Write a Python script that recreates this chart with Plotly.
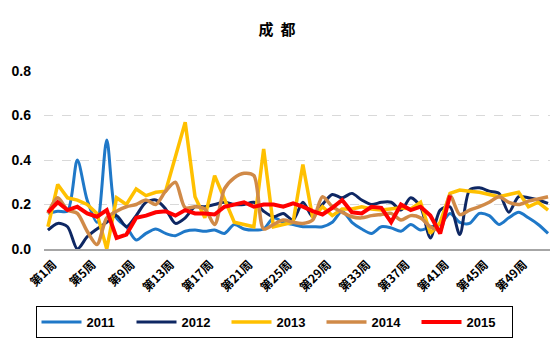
import plotly.graph_objects as go

weeks = list(range(1, 53))
tick_weeks = list(range(1, 53, 4))
tick_labels = [f"第{w}周" for w in tick_weeks]

y2011 = [0.16, 0.17, 0.17, 0.40, 0.22, 0.12, 0.49, 0.14, 0.10, 0.04,
         0.07, 0.09, 0.07, 0.06, 0.08, 0.085, 0.08, 0.085, 0.07, 0.11,
         0.09, 0.085, 0.09, 0.14, 0.12, 0.11, 0.10, 0.10, 0.10, 0.12,
         0.17, 0.12, 0.09, 0.07, 0.10, 0.095, 0.08, 0.11, 0.085, 0.10,
         0.11, 0.16, 0.12, 0.115, 0.16, 0.15, 0.11, 0.14, 0.165, 0.14,
         0.11, 0.07]
y2012 = [0.085, 0.115, 0.10, 0.0, 0.055, 0.09, 0.12, 0.15, 0.10, 0.15,
         0.21, 0.22, 0.18, 0.115, 0.14, 0.19, 0.19, 0.20, 0.21, 0.20,
         0.20, 0.21, 0.17, 0.145, 0.16, 0.13, 0.21, 0.145, 0.20, 0.245,
         0.23, 0.25, 0.22, 0.20, 0.21, 0.21, 0.175, 0.23, 0.19, 0.05,
         0.175, 0.19, 0.065, 0.265, 0.275, 0.26, 0.25, 0.165, 0.235, 0.23,
         0.22, 0.205]
y2013 = [0.10, 0.29, 0.23, 0.22, 0.20, 0.16, 0.0, 0.23, 0.20, 0.27,
         0.24, 0.255, 0.26, 0.41, 0.57, 0.235, 0.14, 0.33, 0.22, 0.12,
         0.11, 0.10, 0.45, 0.10, 0.11, 0.12, 0.38, 0.14, 0.19, 0.15,
         0.18, 0.18, 0.19, 0.18, 0.175, 0.18, 0.185, 0.18, 0.21, 0.07,
         0.12, 0.25, 0.265, 0.26, 0.255, 0.245, 0.235, 0.245, 0.255, 0.19,
         0.21, 0.175]
y2014 = [0.16, 0.23, 0.175, 0.16, 0.08, 0.02, 0.14, 0.17, 0.19, 0.20,
         0.22, 0.20, 0.26, 0.30, 0.185, 0.19, 0.18, 0.11, 0.27, 0.32,
         0.34, 0.33, 0.09, 0.11, 0.13, 0.12, 0.115, 0.13, 0.235, 0.19,
         0.165, 0.145, 0.14, 0.15, 0.155, 0.16, 0.13, 0.15, 0.14, 0.10,
         0.085, 0.24, 0.155, 0.175, 0.19, 0.21, 0.235, 0.21, 0.20, 0.215,
         0.225, 0.235]
y2015 = [0.165, 0.21, 0.175, 0.19, 0.16, 0.145, 0.175, 0.05, 0.065, 0.14,
         0.15, 0.165, 0.17, 0.15, 0.175, 0.16, 0.16, 0.155, 0.19, 0.20,
         0.21, 0.19, 0.20, 0.20, 0.19, 0.205, 0.19, 0.17, 0.155, 0.185,
         0.22, 0.165, 0.16, 0.19, 0.185, 0.12, 0.20, 0.175, 0.19, 0.15,
         0.07, 0.24]

series = [
    ("2011", y2011, "#1F78C8", 3, "spline"),
    ("2012", y2012, "#0E2763", 3, "spline"),
    ("2013", y2013, "#FFC000", 3.5, "linear"),
    ("2014", y2014, "#D08A48", 3.5, "spline"),
    ("2015", y2015, "#FF0000", 4, "linear"),
]

fig = go.Figure()
for name, ys, color, w, shape in series:
    fig.add_trace(go.Scatter(
        x=weeks[:len(ys)], y=ys, name=name, mode="lines",
        line=dict(color=color, width=w, shape=shape, smoothing=0.8),
    ))

base_font = "Liberation Sans, Arial, Noto Sans CJK SC, sans-serif"

fig.update_layout(
    width=554, height=353,
    margin=dict(l=44, r=4, t=71, b=104),
    paper_bgcolor="white", plot_bgcolor="white",
    font=dict(family=base_font, color="black"),
    title=dict(text="<b>成&nbsp;&nbsp;都</b>", x=277 / 554, xref="container", xanchor="center",
               y=1 - 30 / 353, yref="container", yanchor="middle",
               font=dict(size=15, family="Noto Sans CJK SC, sans-serif", color="black")),
    showlegend=True,
    legend=dict(orientation="h", xref="container", x=274 / 554, xanchor="center",
                yref="container", y=1 - 306 / 353, yanchor="top",
                bordercolor="black", borderwidth=1,
                font=dict(size=13, family=base_font, color="black", weight="bold"),
                entrywidth=40, entrywidthmode="pixels",
                itemwidth=40),
    xaxis=dict(range=[0.6, 52.2], tickmode="array", tickvals=tick_weeks, ticktext=tick_labels,
               tickangle=-45, showgrid=False, zeroline=False,
               showline=True, linecolor="#A6A6A6", linewidth=1.5,
               ticks="", ticklabelshift=5, ticklabelstandoff=2,
               tickfont=dict(size=12, family="Noto Sans CJK SC, sans-serif", color="black", weight="bold")),
    yaxis=dict(range=[0, 0.8], tickvals=[0, 0.2, 0.4, 0.6, 0.8],
               ticktext=["0.0", "0.2", "0.4", "0.6", "0.8"],
               showgrid=True, gridcolor="#D9D9D9", griddash="dash", gridwidth=1,
               zeroline=False, showline=False, ticks="", ticklabelstandoff=12,
               tickfont=dict(size=14, family=base_font, color="black", weight="bold")),
)

fig.write_html("out.html")
